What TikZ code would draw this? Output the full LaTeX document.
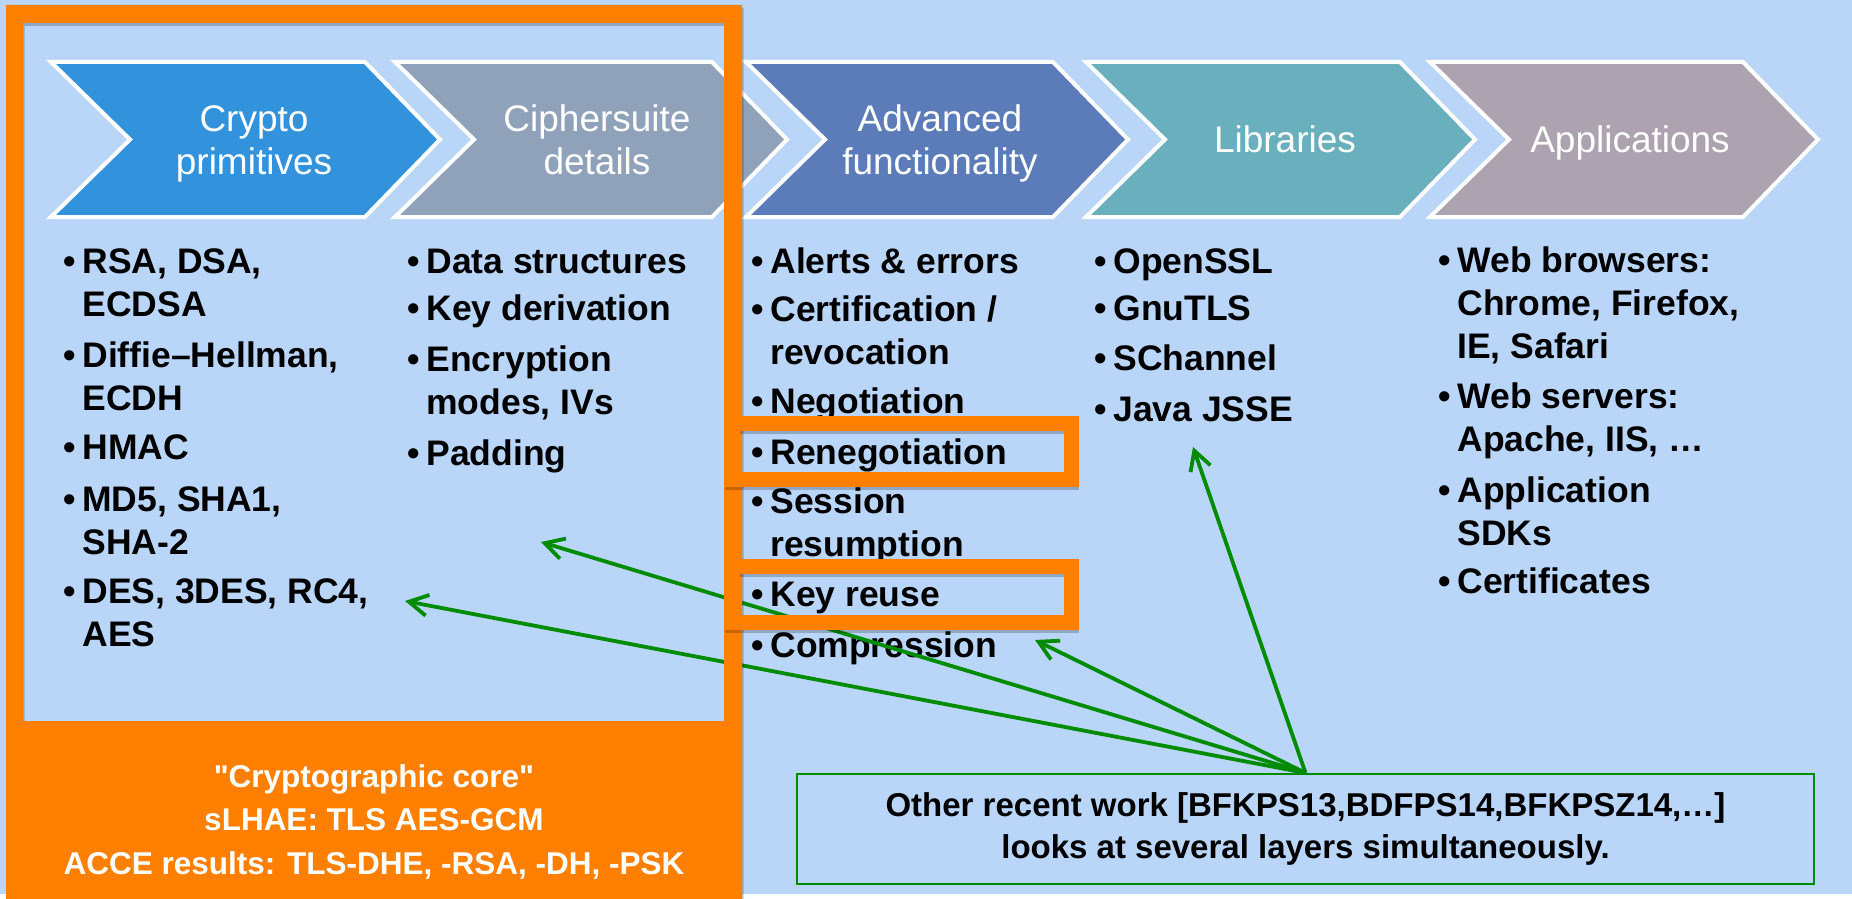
\documentclass[tikz,border=0pt]{standalone}
\usepackage{fontspec}
\setmainfont{Liberation Sans}[Ligatures=TeXOff]
\usetikzlibrary{arrows.meta}

\definecolor{bg}{HTML}{B9D6F8}
\definecolor{corange}{HTML}{FF7F00}
\definecolor{chA}{HTML}{3292DC}
\definecolor{chB}{HTML}{90A2BA}
\definecolor{chC}{HTML}{5B7CB9}
\definecolor{chD}{HTML}{6AAFBD}
\definecolor{chE}{HTML}{ADA2AF}
\definecolor{cgreen}{HTML}{008C00}

% bulleted entry; continuation lines are written as \\&text
\newcommand\bentry[1]{\begin{tabular}[t]{@{}l@{}l@{}}\makebox[9.5pt][l]{•}&#1\end{tabular}}
% chevron: left x, tip x, fill colour
\newcommand\chevshape[3]{%
  \filldraw[chev, fill=#3] (#1,62) -- ({#2-75},62) -- (#2,139.5) -- ({#2-75},217)
    -- (#1,217) -- ({#1+79},139.5) -- cycle;}

\begin{document}
\begin{tikzpicture}[x=0.5pt, y=-0.5pt,
  chev/.style={draw=white, line width=2pt, line join=miter},
  chevlabel/.style={anchor=base, inner sep=0, text=white,
    font={\fontsize{18.5pt}{21.5pt}\selectfont}},
  bul/.style={anchor=base west, inner sep=0,
    font={\fontsize{17.75pt}{21.5pt}\selectfont\bfseries}},
  garrow/.style={draw=cgreen, line width=1.9pt,
    -{Straight Barb[length=9.5pt, width=10.5pt, line width=1.9pt]}},
  hbox/.style={draw=corange, line width=7.5pt},
  hshadow/.style={draw=black, opacity=0.22, line width=7.5pt},
]
\useasboundingbox (0,0) rectangle (1852,899);
\fill[white] (0,0) rectangle (1852,899);
\fill[bg] (0,0) rectangle (1852,894);

% process chevrons
\chevshape{51}{440}{chA}
\chevshape{395}{787}{chB}
\chevshape{746}{1128}{chC}
\chevshape{1086}{1475}{chD}
\chevshape{1430}{1818}{chE}

\node[chevlabel] (lab1) at (254,132) {\parbox[t]{150pt}{\centering Crypto\\primitives}};
\node[chevlabel] (lab2) at (597,132) {\parbox[t]{150pt}{\centering Ciphersuite\\details}};
\node[chevlabel] (lab3) at (940,132) {\parbox[t]{150pt}{\centering Advanced\\functionality}};
\node[chevlabel] (lab4) at (1285,153) {Libraries};
\node[chevlabel] (lab5) at (1630,153) {Applications};

% column 1
\node[bul] (p1) at (63,273) {\bentry{RSA, DSA,\\&ECDSA}};
\node[bul] (p2) at (63,367) {\bentry{Diffie–Hellman,\\&ECDH}};
\node[bul] (p3) at (63,459) {\bentry{HMAC}};
\node[bul] (p4) at (63,511) {\bentry{MD5, SHA1,\\&SHA-2}};
\node[bul] (p5) at (63,603) {\bentry{DES, 3DES, RC4,\\&AES}};
% column 2
\node[bul] (c1) at (407,273) {\bentry{Data structures}};
\node[bul] (c2) at (407,320) {\bentry{Key derivation}};
\node[bul] (c3) at (407,371) {\bentry{Encryption\\&modes, IVs}};
\node[bul] (c4) at (407,465) {\bentry{Padding}};
% column 3
\node[bul] (a1) at (751,273) {\bentry{Alerts \& errors}};
\node[bul] (a2) at (751,321) {\bentry{Certification /\\&revocation}};
\node[bul] (a3) at (751,413) {\bentry{Negotiation}};
\node[bul] (a4) at (751,464) {\bentry{Renegotiation}};
\node[bul] (a5) at (751,513) {\bentry{Session\\&resumption}};
\node[bul] (a6) at (751,606) {\bentry{Key reuse}};
\node[bul] (a7) at (751,657) {\bentry{Compression}};
% column 4
\node[bul] (l1) at (1094,273) {\bentry{OpenSSL}};
\node[bul] (l2) at (1094,320) {\bentry{GnuTLS}};
\node[bul] (l3) at (1094,370) {\bentry{SChannel}};
\node[bul] (l4) at (1094,421) {\bentry{Java JSSE}};
% column 5
\node[bul] (w1) at (1438,272) {\bentry{Web browsers:\\&Chrome, Firefox,\\&IE, Safari}};
\node[bul] (w2) at (1438,408) {\bentry{Web servers:\\&Apache, IIS, …}};
\node[bul] (w3) at (1438,502) {\bentry{Application\\&SDKs}};
\node[bul] (w4) at (1438,593) {\bentry{Certificates}};

% note box and its pointers
\node[draw=cgreen, line width=1.1pt, minimum width=508.5pt, minimum height=55pt,
  inner sep=0, align=center, font={\fontsize{16.5pt}{21pt}\selectfont\bfseries}]
  (other) at (1305.5,829) {Other recent work [BFKPS13,BDFPS14,BFKPSZ14,…]\\looks at several layers simultaneously.};

\coordinate (tPad) at (541,542);
\coordinate (tDES) at (405,601);
\coordinate (tComp) at (1035,640);
\coordinate (tJSSE) at (1193,447);
\draw[garrow] (other.north) -- (tPad);
\draw[garrow] (other.north) -- (tDES);
\draw[garrow] (other.north) -- (tComp);
\draw[garrow] (other.north) -- (tJSSE);

% cryptographic core frame
\fill[black, opacity=0.22, even odd rule] (7.5,8) rectangle (743.5,902) (24.5,26) rectangle (725.5,724);
\fill[corange, even odd rule] (6,5) rectangle (742,899) (23,23) rectangle (724,721);

% highlighted items
\draw[hshadow] (732.5,426.5) rectangle (1071.5,482.5);
\draw[hbox] (732.5,423.5) rectangle (1071.5,479.5);
\draw[hshadow] (732.5,569.5) rectangle (1071.5,625.5);
\draw[hbox] (732.5,566.5) rectangle (1071.5,622.5);

\node[anchor=base, inner sep=0, text=white, font={\fontsize{15.75pt}{21.75pt}\selectfont\bfseries}]
  (core) at (374,787) {\parbox[t]{360pt}{\centering "Cryptographic core"\\sLHAE: TLS AES-GCM\\ACCE results: TLS-DHE, -RSA, -DH, -PSK}};
\end{tikzpicture}
\end{document}
